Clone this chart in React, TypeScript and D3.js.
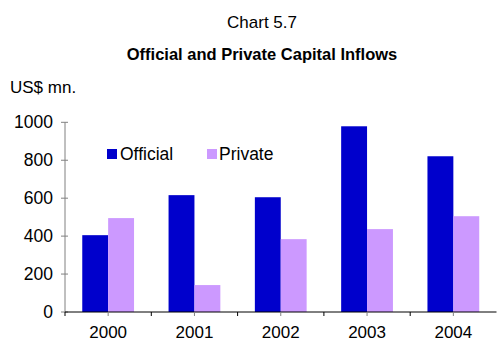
import React from "react";
import * as d3 from "d3";

const years = ["2000", "2001", "2002", "2003", "2004"];
const official = [405, 616, 605, 979, 821];
const privateFlows = [495, 142, 384, 437, 505];
const seriesNames = ["Official", "Private"];
const yTicks = [0, 200, 400, 600, 800, 1000];

const W = 497;
const H = 342;
const FONT = "'Liberation Sans', Arial, sans-serif";
const COLORS = ["#0000CC", "#CC99FF"];

export default function App() {
  const x0 = 65;
  const x1 = 496.5;
  const yBottom = 312;
  const yTop = 122.3;
  const x = d3.scaleBand<string>().domain(years).range([x0, x1]).paddingInner(0.4).paddingOuter(0.2);
  const xs = d3.scaleBand<string>().domain(seriesNames).range([0, x.bandwidth()]);
  const y = d3.scaleLinear().domain([0, 1000]).range([yBottom, yTop]);
  const step = x.step();
  const data = [official, privateFlows];

  return (
    <svg width={W} height={H} style={{ position: "absolute", left: 0, top: 0, background: "#fff" }} fontFamily={FONT}>
      <text x={262} y={28} fontSize={17} textAnchor="middle" fill="#000">Chart 5.7</text>
      <text x={262} y={60} fontSize={16.5} fontWeight="bold" textAnchor="middle" fill="#000">Official and Private Capital Inflows</text>
      <text x={10} y={93} fontSize={17} fill="#000">US$ mn.</text>

      {data.map((vals, si) =>
        vals.map((v, i) => (
          <rect
            key={`${si}-${i}`}
            x={(x(years[i]) as number) + (xs(seriesNames[si]) as number)}
            y={y(v)}
            width={xs.bandwidth()}
            height={yBottom - y(v)}
            fill={COLORS[si]}
          />
        ))
      )}

      {/* y axis */}
      <line x1={x0} x2={x0} y1={yTop} y2={yBottom} stroke="#808080" strokeWidth={1} />
      {yTicks.map((t) => (
        <g key={t}>
          <line x1={x0 - 4} x2={x0 + 3} y1={y(t)} y2={y(t)} stroke="#808080" />
          <text x={53} y={y(t) + 6} fontSize={17.5} textAnchor="end" fill="#000">{t}</text>
        </g>
      ))}

      {/* x axis */}
      <line x1={x0} x2={x1} y1={yBottom} y2={yBottom} stroke="#000" strokeWidth={1} />
      {years.map((yr, i) => (
        <line key={"t" + yr} x1={x0 + i * step} x2={x0 + i * step} y1={yBottom} y2={yBottom + 4} stroke="#000" />
      ))}
      {years.map((yr) => (
        <line key={"c" + yr} x1={(x(yr) as number) + x.bandwidth() / 2} x2={(x(yr) as number) + x.bandwidth() / 2} y1={yBottom} y2={yBottom + 4} stroke="#808080" />
      ))}
      {years.map((yr) => (
        <text key={yr} x={(x(yr) as number) + x.bandwidth() / 2} y={338} fontSize={17} textAnchor="middle" fill="#000">{yr}</text>
      ))}

      {/* legend */}
      <rect x={107} y={149} width={10} height={10} fill={COLORS[0]} />
      <text x={120} y={160} fontSize={17.5} fill="#000">{seriesNames[0]}</text>
      <rect x={207} y={149} width={10} height={10} fill={COLORS[1]} />
      <text x={219} y={160} fontSize={17.5} fill="#000">{seriesNames[1]}</text>
    </svg>
  );
}
